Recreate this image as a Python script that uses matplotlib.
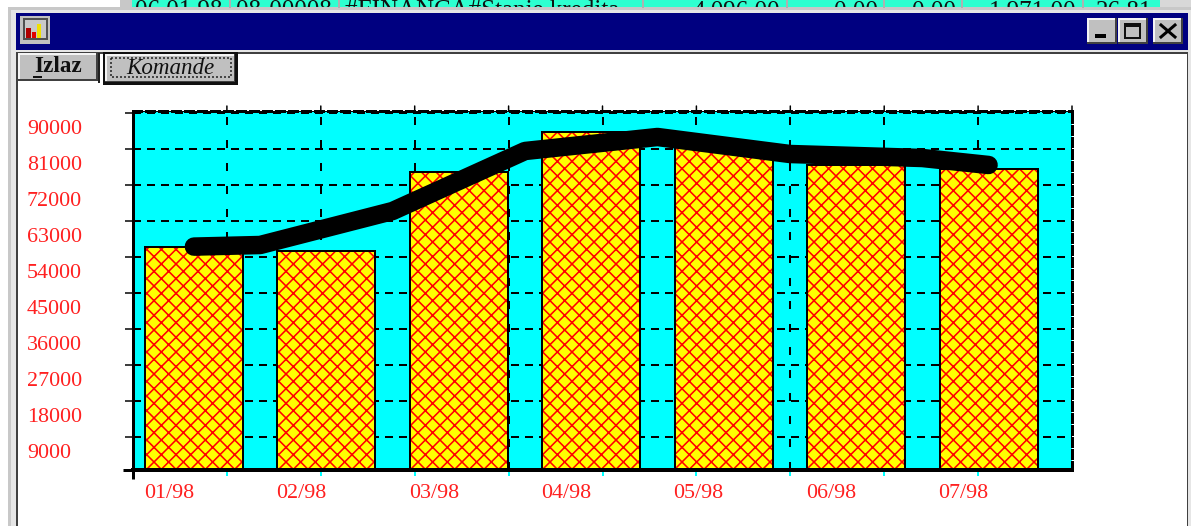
import numpy as np
import matplotlib
matplotlib.use('Agg')
from matplotlib import pyplot as plt
from matplotlib.patches import Rectangle
from matplotlib.transforms import ScaledTranslation

# the hatch tile follows the dpi, this one gives the spacing of the reference
DPI = 88
W, H = 1191, 526

months = ['01/98', '02/98', '03/98', '04/98', '05/98', '06/98', '07/98']
bar_values = [60000, 59000, 78750, 88750, 85250, 80500, 79500]

line_pos = [0, 0.5, 1.5, 2.5, 3.5, 4.5, 5.5, 6]
line_values = [60100, 60500, 69000, 84000, 87500, 83250, 82250, 80500]

y_labels = [9000, 18000, 27000, 36000, 45000, 54000, 63000, 72000, 81000, 90000]
y_grid = [12500, 21500, 30500, 39500, 48500, 57500, 66500, 75500, 84500, 93500]

table_cells = ['06.01.98', '08-00008', '#FINANCA#Stanje kredita',
               '4.096,00', '0,00', '0,00', '1.971,00', '26,81']

plt.rcParams['font.family'] = ['Liberation Serif', 'DejaVu Serif']
plt.rcParams['hatch.linewidth'] = 1.3
plt.rcParams['lines.scale_dashes'] = False


def px(n):
    return n * 72 / DPI


def rect(ax, x0, y0, x1, y1, color, **kw):
    ax.add_patch(Rectangle((x0, y0), x1 - x0, y1 - y0, facecolor=color, edgecolor='none', **kw))


def raised_button(ax, x0, y0, x1, y1, shadow=2):
    rect(ax, x0, y0, x1, y1, '#c0c0c0')
    rect(ax, x0, y0, x1, y0 + 2, '#f4f4f4')
    rect(ax, x0, y0, x0 + 2, y1, '#f4f4f4')
    rect(ax, x0, y1 - shadow, x1, y1, '#404040')
    rect(ax, x1 - shadow, y0, x1, y1, '#404040')


def draw_window(ax):
    # what is left of the table behind the window
    rect(ax, 120, 0, 132, 7, '#c8c8c8')
    rect(ax, 132, 0, 1160, 7, '#2effd0')
    rect(ax, 1160, 0, 1191, 7, '#d8d8d8')
    for sep in [230, 339, 643, 787, 884, 962, 1083]:
        ax.plot([sep, sep], [0, 7], color='#b0b0b0', lw=px(2))
    cells_x = [135, 236, 345, 780, 878, 956, 1076, 1152]
    aligns = ['left', 'left', 'left', 'right', 'right', 'right', 'right', 'right']
    clip = Rectangle((120, 0), 1071, 7, transform=ax.transData)
    for x, s, a in zip(cells_x, table_cells, aligns):
        t = ax.text(x, 0, s, ha=a, va='top', fontsize=px(25), color='#101010', clip_on=True)
        t.set_clip_path(clip)

    # frame and title bar
    rect(ax, 8, 7, 1191, 526, '#c8c8c8')
    rect(ax, 11, 10, 1191, 526, '#e6e6e6')
    rect(ax, 16, 13, 1188, 50, '#000080')
    rect(ax, 16, 52, 1188, 526, '#404040')
    rect(ax, 18, 54, 1187, 526, '#ffffff')

    # title bar icon
    rect(ax, 20, 16, 50, 44, '#c0c0c0')
    rect(ax, 23, 18, 48, 40, '#505050')
    rect(ax, 25, 20, 46, 38, '#c8c8c8')
    rect(ax, 26, 28, 31, 38, '#b00000')
    rect(ax, 32, 32, 36, 38, '#e00000')
    rect(ax, 37, 24, 41, 38, '#f0e000')

    # title bar buttons
    raised_button(ax, 1087, 18, 1117, 44)
    raised_button(ax, 1118, 18, 1148, 44)
    raised_button(ax, 1153, 18, 1183, 44)
    rect(ax, 1095, 34, 1106, 38, '#000000')
    ax.add_patch(Rectangle((1125, 24), 15, 14, facecolor='none', edgecolor='#101010', lw=px(2)))
    rect(ax, 1125, 24, 1140, 27, '#101010')
    ax.plot([1161, 1175], [25, 37], color='#000000', lw=px(3))
    ax.plot([1161, 1175], [37, 25], color='#000000', lw=px(3))

    # menu buttons
    raised_button(ax, 18, 53, 98, 81)
    rect(ax, 98, 53, 100, 83, '#202020')
    ax.text(58, 67, 'Izlaz', ha='center', va='center', fontsize=px(23), fontweight='bold', color='#101010')
    ax.plot([34, 41], [77, 77], color='#101010', lw=px(2))

    rect(ax, 103, 52, 238, 85, '#101010')
    raised_button(ax, 105, 54, 235, 82, shadow=1)
    ax.add_patch(Rectangle((111, 58), 120, 19, facecolor='none', edgecolor='#202020',
                           lw=px(1.5), linestyle=(0, (px(2), px(2)))))
    ax.text(170, 68, 'Komande', ha='center', va='center', fontsize=px(23), style='italic', color='#101010')

    # axis stubs outside the plot area
    ax.plot([123, 133], [470, 470], color='black', lw=px(3), solid_capstyle='butt')
    ax.plot([133, 133], [470, 479], color='black', lw=px(3), solid_capstyle='butt')


def plot_chart():
    fig = plt.figure(figsize=(W / DPI, H / DPI), dpi=DPI, facecolor='white')

    back = fig.add_axes([0, 0, 1, 1], zorder=0)
    back.set_xlim(0, W)
    back.set_ylim(H, 0)
    back.axis('off')
    draw_window(back)

    ax = fig.add_axes([133 / W, 1 - 470 / H, (1072 - 133) / W, (470 - 111) / H], zorder=1)
    ax.set_facecolor('#00ffff')
    ax.set_axisbelow(True)
    ax.set_xlim(-0.46, 6.63)
    ax.set_ylim(4250, 94000)

    x_pos = np.arange(len(months))
    ax.bar(x_pos, bar_values, width=0.74, color='#ffff00', edgecolor='#ff0000', hatch='xx', linewidth=0, zorder=2)
    ax.bar(x_pos, bar_values, width=0.74, fill=False, edgecolor='black', linewidth=px(2), zorder=3)
    ax.plot(line_pos, line_values, color='black', lw=px(18.5), solid_capstyle='round',
            solid_joinstyle='round', zorder=4)

    # gridlines sit on their own ticks, the labels stay on the values they name
    x_grid = np.linspace(-0.46, 6.63, 11)[1:-1]
    ax.set_xticks(x_grid, minor=True)
    ax.set_yticks(y_grid, minor=True)
    ax.grid(which='minor', axis='x', color='black', lw=px(2), linestyle=(0, (px(8), px(15))))
    ax.grid(which='minor', axis='y', color='black', lw=px(2), linestyle=(0, (px(8), px(6))))
    ax.tick_params(axis='y', which='minor', direction='out', length=px(8), width=px(1.5), color='black')
    ax.tick_params(axis='x', which='minor', direction='out', length=px(6), width=px(2), color='#00ffff')

    ax.set_yticks(y_labels)
    ax.set_xticks(x_pos, months)
    ax.tick_params(axis='y', which='major', length=0, pad=px(106), labelsize=px(22), labelcolor='#ff2020')
    ax.tick_params(axis='x', which='major', length=0, pad=px(14), labelsize=px(22), labelcolor='#ff2020')
    plt.setp(ax.get_yticklabels(), ha='left')
    shift = ScaledTranslation(-25 / DPI, 0, fig.dpi_scale_trans)
    for lab in ax.get_xticklabels():
        lab.set_transform(lab.get_transform() + shift)

    ax.spines['left'].set_linewidth(px(3))
    ax.spines['bottom'].set_linewidth(px(4))
    ax.spines['top'].set_linewidth(px(3))
    ax.spines['top'].set_linestyle((0, (px(8), px(5))))
    ax.spines['right'].set_linewidth(px(3))
    ax.spines['right'].set_linestyle((0, (px(8), px(4))))
    ax.plot([0, 1], [1, 1], transform=ax.transAxes, color='black', lw=px(1), clip_on=False, zorder=5)

    # small black ticks above the plot area
    for x in list(x_grid) + [6.63]:
        ax.annotate('', xy=(x, 1), xycoords=ax.get_xaxis_transform(), xytext=(0, px(5)),
                    textcoords='offset points',
                    arrowprops=dict(arrowstyle='-', color='black', lw=px(1.5), shrinkA=0, shrinkB=0))

    fig.savefig('out.png', dpi=DPI)


plot_chart()
